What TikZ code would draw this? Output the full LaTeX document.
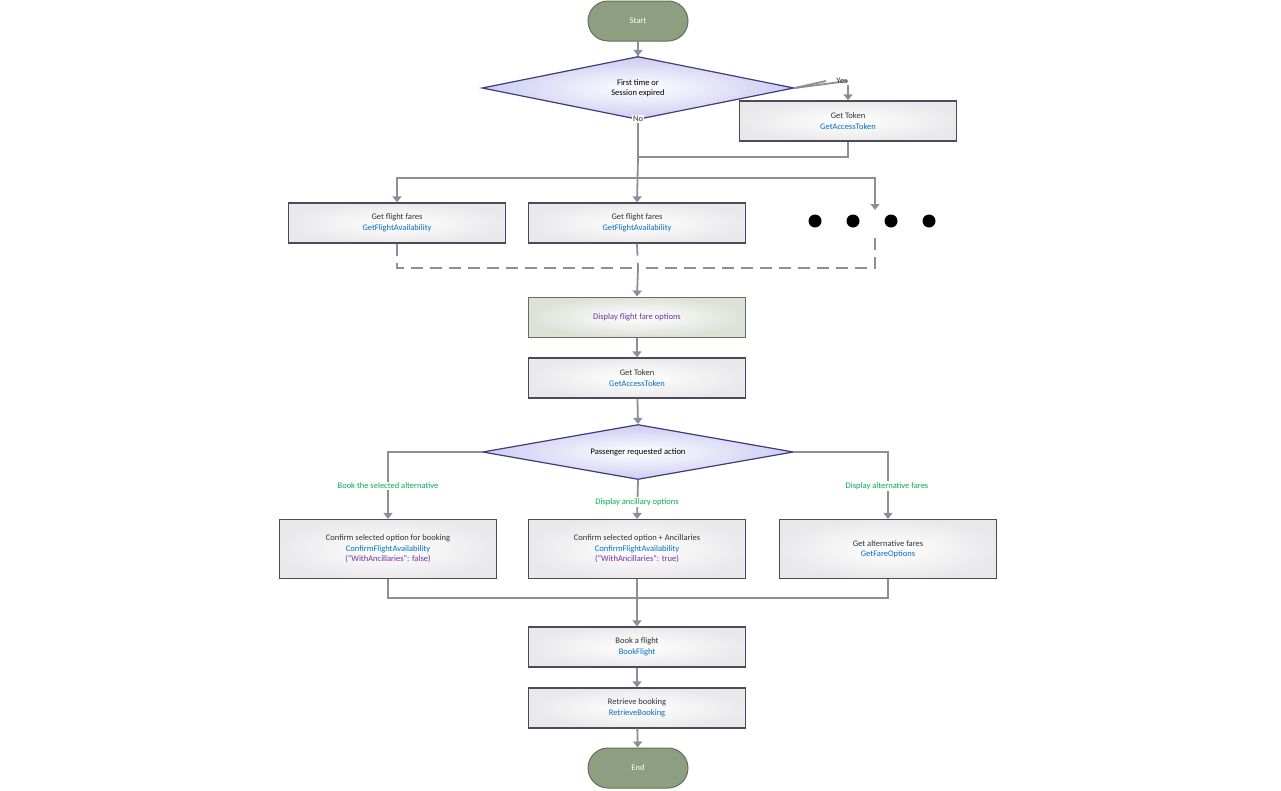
\documentclass[tikz,border=0pt]{standalone}
\usepackage{fontspec}
\setmainfont{Carlito}
\usetikzlibrary{shapes.geometric,arrows.meta}
\definecolor{lnk}{HTML}{0070C0}
\definecolor{pur}{HTML}{7030A0}
\definecolor{grn}{HTML}{00B050}
\definecolor{edge}{HTML}{8E8E98}
\definecolor{bord}{HTML}{4E4A5C}
\definecolor{boxf}{HTML}{F2F2F6}
\definecolor{term}{HTML}{8E9E80}
\begin{document}
\begin{tikzpicture}[x=1pt,y=-1pt,font=\fontsize{8.5}{10.5}\selectfont,
 box/.style={draw=bord,line width=1.2pt,inner color=white,outer color=boxf!80!gray!60,minimum width=217pt,minimum height=40pt,align=center,text=black!80},
 term/.style={draw=term!70!black,line width=1pt,rounded corners=20pt,fill=term,minimum width=100pt,minimum height=40pt,text=white},
 dia/.style={diamond,aspect=5,draw=bord!80!blue,line width=1.2pt,inner color=white,outer color=gray!40!blue!25,align=center,inner sep=0pt,text=black},
 ar/.style={draw=edge,line width=1.8pt,-{Triangle[length=6pt,width=9pt]}},
 ln/.style={draw=edge,line width=1.8pt},
 dl/.style={draw=edge,line width=1.8pt,dash pattern=on 12pt off 7pt},
 lab/.style={text=grn,fill=white,inner sep=1pt}]
\useasboundingbox (0,0) rectangle (1281,790);
\node[term] (start) at (638,21) {Start};
\node[dia,minimum width=312pt,minimum height=63pt] (d1) at (638,88) {First time or\\Session expired};
\node[box] (tok1) at (848,121) {Get Token\\\textcolor{lnk}{GetAccessToken}};
\node[box] (g1) at (397,223) {Get flight fares\\\textcolor{lnk}{GetFlightAvailability}};
\node[box] (g2) at (637,223) {Get flight fares\\\textcolor{lnk}{GetFlightAvailability}};
\foreach \i/\x in {1/815,2/853,3/891,4/929}{\fill (\x,221) circle (6.5pt) coordinate (dot\i);}
\coordinate (j1) at (638,157);
\coordinate (br) at (638,178);
\coordinate (c3) at (875,210);
\coordinate (m) at (638,268);
\draw[ln] (start) -- (d1);
\draw[ar] (start.south) -- (d1.north);
\draw[ln] (d1.east) -- (848,81) -- (848,81);
\draw[ln] (d1.east) -- (826,81);
\node[text=black!80,inner sep=1pt] (yes) at (842,81) {Yes};
\draw[ar] (yes.south -| tok1.north) -- (tok1.north);
\node[text=black!80,fill=white,inner sep=1pt] (no) at (638,119) {No};
\draw[ln] (no.south) -- (j1);
\draw[ln] (tok1.south) |- (j1);
\draw[ar] (j1) -- (g2.north);
\draw[ar] (br) -| (g1.north);
\draw[ar] (br) -| (c3);
\draw[dl] (g1.south) |- (m);
\draw[dl] (875,238) |- (m);
\draw[dl] (g2.south) -- (m);
\node[draw=term!70!black,line width=1pt,inner color=white,outer color=term!30,minimum width=217pt,minimum height=40pt,text=pur,
  append after command={}] (disp) at (637,317) {Display flight fare options};
\node[box] (tok2) at (637,378) {Get Token\\\textcolor{lnk}{GetAccessToken}};
\node[dia,minimum width=311pt,minimum height=55pt] (d2) at (638,452) {Passenger requested action};
\node[box,minimum height=59pt] (c1) at (388,549) {Confirm selected option for booking\\\textcolor{lnk}{ConfirmFlightAvailability}\\\textcolor{pur}{("WithAncillaries": false)}};
\node[box,minimum height=59pt] (c2) at (637,549) {Confirm selected option + Ancillaries\\\textcolor{lnk}{ConfirmFlightAvailability}\\\textcolor{pur}{("WithAncillaries": true)}};
\node[box,minimum height=59pt] (c3b) at (888,549) {Get alternative fares\\\textcolor{lnk}{GetFareOptions}};
\node[box] (book) at (637,647) {Book a flight\\\textcolor{lnk}{BookFlight}};
\node[box] (ret) at (637,708) {Retrieve booking\\\textcolor{lnk}{RetrieveBooking}};
\node[term] (end) at (638,768) {End};
\draw[ar] (m) -- (disp.north);
\draw[ar] (disp) -- (tok2);
\draw[ar] (tok2) -- (d2.north);
\draw[ar] (d2.west) -| (c1.north);
\draw[ar] (d2.south) -- (c2.north);
\draw[ar] (d2.east) -| (c3b.north);
\node[lab] at (388,486) {Book the selected alternative};
\node[lab] at (637,502) {Display ancillary options};
\node[lab] at (887,486) {Display alternative fares};
\coordinate (j2) at (638,598);
\draw[ln] (c1.south) |- (j2);
\draw[ln] (c3b.south) |- (j2);
\draw[ar] (c2.south) -- (book.north);
\draw[ar] (book) -- (ret);
\draw[ar] (ret) -- (end);
\end{tikzpicture}
\end{document}
